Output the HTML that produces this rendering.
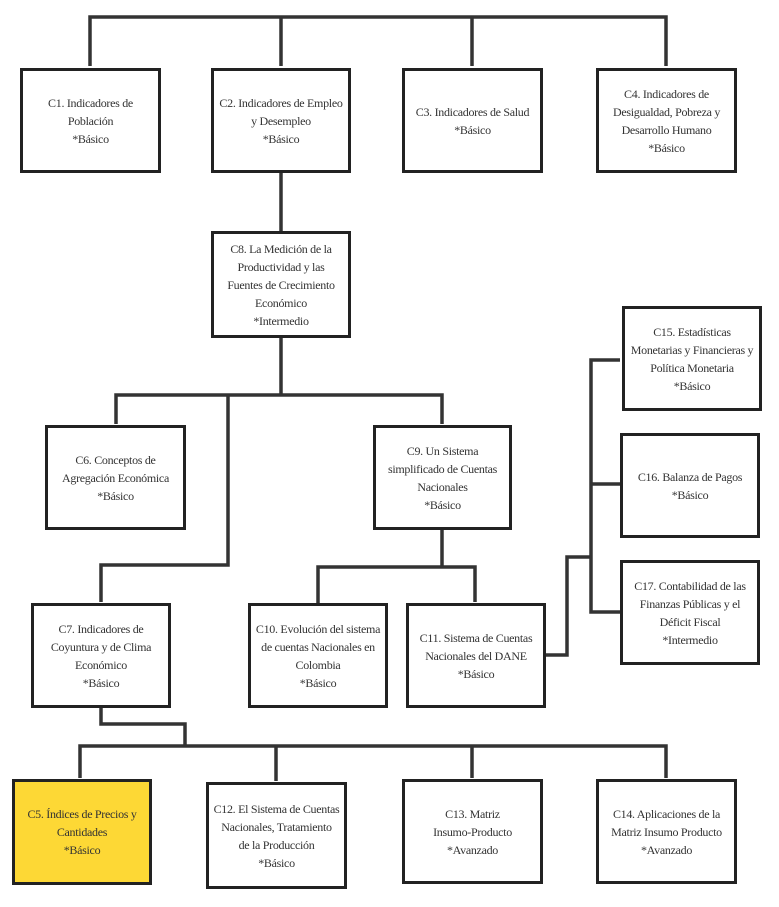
<!DOCTYPE html>
<html><head><meta charset="utf-8"><style>
body{margin:0;width:779px;height:907px;background:#fff;position:relative;overflow:hidden;font-family:"Liberation Serif",serif;}
.b{position:absolute;box-sizing:border-box;border:3.5px solid #222;background:#fff;display:flex;align-items:center;justify-content:center;text-align:center;font-size:12px;letter-spacing:-0.3px;white-space:nowrap;line-height:18px;color:#333;padding:0;}
svg{position:absolute;left:0;top:0;}
</style></head><body>
<svg width="779" height="907"><g stroke="#333" stroke-width="3.5" fill="none">
<polyline points="90,66 90,17 666,17 666,66"/>
<line x1="281" y1="17" x2="281" y2="66"/>
<line x1="472" y1="17" x2="472" y2="66"/>
<line x1="281" y1="173" x2="281" y2="231"/>
<line x1="281" y1="337" x2="281" y2="395"/>
<polyline points="116,424 116,395 442,395 442,424"/>
<polyline points="228,395 228,565 101,565 101,602"/>
<line x1="442" y1="529" x2="442" y2="567"/>
<polyline points="318,603 318,567 475,567 475,602"/>
<polyline points="545,655 567,655 567,557 591,557"/>
<polyline points="620,360 591,360 591,612 620,612"/>
<line x1="591" y1="484" x2="620" y2="484"/>
<polyline points="101,707 101,724 185,724 185,746"/>
<polyline points="80,778 80,746 666,746 666,778"/>
<line x1="276" y1="746" x2="276" y2="781"/>
<line x1="472" y1="746" x2="472" y2="778"/>
</g></svg>
<div class="b" style="left:20px;top:68px;width:141px;height:105px">C1. Indicadores de<br>Población<br>*Básico</div>
<div class="b" style="left:211px;top:68px;width:140px;height:105px">C2. Indicadores de Empleo<br>y Desempleo<br>*Básico</div>
<div class="b" style="left:402px;top:68px;width:141px;height:105px">C3. Indicadores de Salud<br>*Básico</div>
<div class="b" style="left:596px;top:68px;width:141px;height:105px">C4. Indicadores de<br>Desigualdad, Pobreza y<br>Desarrollo Humano<br>*Básico</div>
<div class="b" style="left:211px;top:231px;width:140px;height:107px">C8. La Medición de la<br>Productividad y las<br>Fuentes de Crecimiento<br>Económico<br>*Intermedio</div>
<div class="b" style="left:45px;top:425px;width:141px;height:105px">C6. Conceptos de<br>Agregación Económica<br>*Básico</div>
<div class="b" style="left:373px;top:425px;width:139px;height:105px">C9. Un Sistema<br>simplificado de Cuentas<br>Nacionales<br>*Básico</div>
<div class="b" style="left:622px;top:306px;width:140px;height:105px">C15. Estadísticas<br>Monetarias y Financieras y<br>Política Monetaria<br>*Básico</div>
<div class="b" style="left:620px;top:433px;width:140px;height:105px">C16. Balanza de Pagos<br>*Básico</div>
<div class="b" style="left:620px;top:560px;width:140px;height:105px">C17. Contabilidad de las<br>Finanzas Públicas y el<br>Déficit Fiscal<br>*Intermedio</div>
<div class="b" style="left:31px;top:603px;width:140px;height:105px">C7. Indicadores de<br>Coyuntura y de Clima<br>Económico<br>*Básico</div>
<div class="b" style="left:248px;top:603px;width:140px;height:105px">C10. Evolución del sistema<br>de cuentas Nacionales en<br>Colombia<br>*Básico</div>
<div class="b" style="left:406px;top:603px;width:140px;height:105px">C11. Sistema de Cuentas<br>Nacionales del DANE<br>*Básico</div>
<div class="b" style="left:12px;top:779px;width:140px;height:106px;background:#fdd835;">C5. Índices de Precios y<br>Cantidades<br>*Básico</div>
<div class="b" style="left:206px;top:782px;width:141px;height:107px">C12. El Sistema de Cuentas<br>Nacionales, Tratamiento<br>de la Producción<br>*Básico</div>
<div class="b" style="left:402px;top:779px;width:141px;height:105px">C13. Matriz<br>Insumo-Producto<br>*Avanzado</div>
<div class="b" style="left:596px;top:779px;width:141px;height:105px">C14. Aplicaciones de la<br>Matriz Insumo Producto<br>*Avanzado</div>
</body></html>
